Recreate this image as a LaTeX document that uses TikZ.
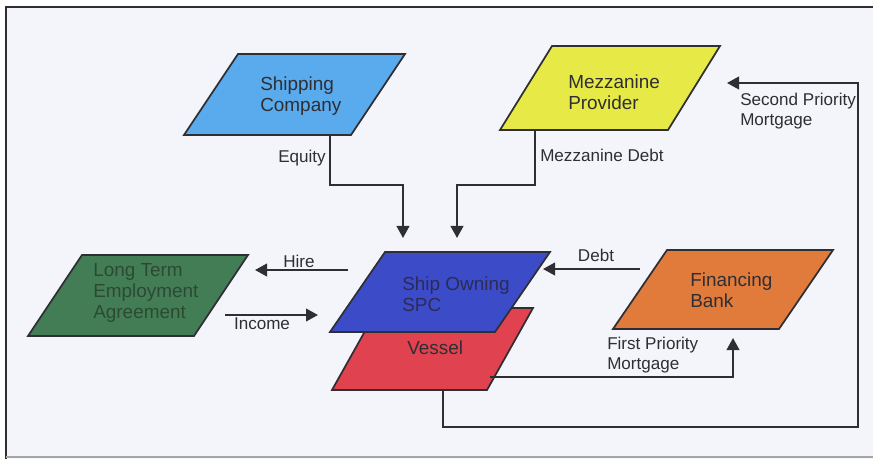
\documentclass[tikz,border=0pt]{standalone}
\usepackage{fontspec}
\setmainfont{Liberation Sans}
\usetikzlibrary{calc,arrows.meta}

\definecolor{pagebg}{HTML}{F4F5FA}
\definecolor{ink}{HTML}{2E2E33}
\definecolor{shipblue}{HTML}{5AAAEE}
\definecolor{mezzyellow}{HTML}{E6E946}
\definecolor{ltegreen}{HTML}{437D56}
\definecolor{ltetext}{HTML}{2C4A33}
\definecolor{spcblue}{HTML}{3C4CC9}
\definecolor{spctext}{HTML}{2B2B55}
\definecolor{vesselred}{HTML}{E0434F}
\definecolor{bankorange}{HTML}{E07B3C}

% parallelogram drawn over the bounding node #1, slanted by #2 px
\newcommand\drawpara[3]{%
  \filldraw[para, fill=#3]
    ([xshift=#2*0.75pt]#1.north west) -- (#1.north east)
    -- ([xshift=-#2*0.75pt]#1.south east) -- (#1.south west) -- cycle;}

\begin{document}
\begin{tikzpicture}[x=0.75pt,y=-0.75pt,
  box/.style 2 args={inner sep=0pt, outer sep=0pt,
    minimum width=#1*0.75pt, minimum height=#2*0.75pt},
  para/.style={draw=ink, line width=1.3pt, line join=miter},
  boxtext/.style={anchor=west, align=left, inner sep=0pt, text=ink,
    font=\fontsize{14.2}{15.8}\selectfont},
  lbl/.style={inner sep=0pt, text=ink, align=left,
    font=\fontsize{12.8}{15}\selectfont},
  conn/.style={draw=ink, line width=1.4pt,
    -{Triangle[length=9pt,width=9.5pt]}},
  plain/.style={draw=ink, line width=1.4pt}]

% canvas and frame
\useasboundingbox (0,0) rectangle (873,459);
\fill[white] (0,0) rectangle (873,459);
\fill[pagebg] (6,7) rectangle (873,459);
\draw[ink, line width=1.5pt] (6,459) -- (6,7) -- (873,7);
\draw[gray!70, line width=1pt] (6,457) -- (873,457);

% bounding nodes of the parallelograms
\node[box={221}{81}] (shipco) at (294.5,94.5) {};
\node[box={220}{84}] (mezz)   at (610,88) {};
\node[box={220}{81}] (lte)    at (138,295.5) {};
\node[box={201}{82}] (vessel) at (432.5,349) {};
\node[box={220}{80}] (spc)    at (440,292) {};
\node[box={220}{79}] (bank)   at (723,289.5) {};

% parallelogram shapes
\drawpara{shipco}{54}{shipblue}
\drawpara{mezz}{52}{mezzyellow}
\drawpara{lte}{54}{ltegreen}
\drawpara{vessel}{46}{vesselred}
\drawpara{spc}{55}{spcblue}
\drawpara{bank}{54}{bankorange}

% box captions
\node[boxtext] (shipco-t) at (260,96) {Shipping\\Company};
\node[boxtext] (mezz-t)   at (568,92) {Mezzanine\\Provider};
\node[boxtext, text=ltetext] (lte-t) at (93,293) {Long Term\\Employment\\Agreement};
\node[boxtext, text=spctext] (spc-t) at (402,294) {Ship Owning\\SPC};
\node[boxtext] (vessel-t) at (407,348) {Vessel};
\node[boxtext] (bank-t)   at (690,290) {Financing\\Bank};

% flows into the SPC
\draw[conn] ($(shipco.south)+(35.5,0)$) -- ++(0,50) -| ($(spc.north)+(-37,-14)$);
\draw[conn] ($(mezz.south)+(-75,0)$) -- ++(0,55) -| ($(spc.north)+(17,-14)$);
\draw[conn] ($(spc.west)+(18,-22)$) -- ($(lte.east)+(7,-25.5)$);
\draw[conn] ($(lte.east)+(-23,19.5)$) -- ($(spc.west)+(-12,23)$);
\draw[conn] ($(bank.west)+(27,-20.5)$) -- ($(spc.east)+(-7,-23)$);

% mortgages
\draw[conn] ($(vessel.east)+(-43,28)$) -| ($(bank.south)+(10,9)$);
\coordinate (outer) at (858,427);
\draw[conn] ($(vessel.south)+(10.5,0)$) |- (outer) |- ($(mezz.east)+(7,-5)$);

% flow labels
\node[lbl, anchor=east] (l-eq) at (326,158) {Equity};
\node[lbl, anchor=west] (l-md) at (540,155) {Mezzanine Debt};
\node[lbl, anchor=west] (l-sp) at (740,111) {Second Priority\\Mortgage};
\node[lbl] (l-hire) at (299,261) {Hire};
\node[lbl] (l-inc)  at (262,324) {Income};
\node[lbl] (l-debt) at (596,255) {Debt};
\node[lbl, anchor=west] (l-fp) at (607,355) {First Priority\\Mortgage};
\end{tikzpicture}
\end{document}
